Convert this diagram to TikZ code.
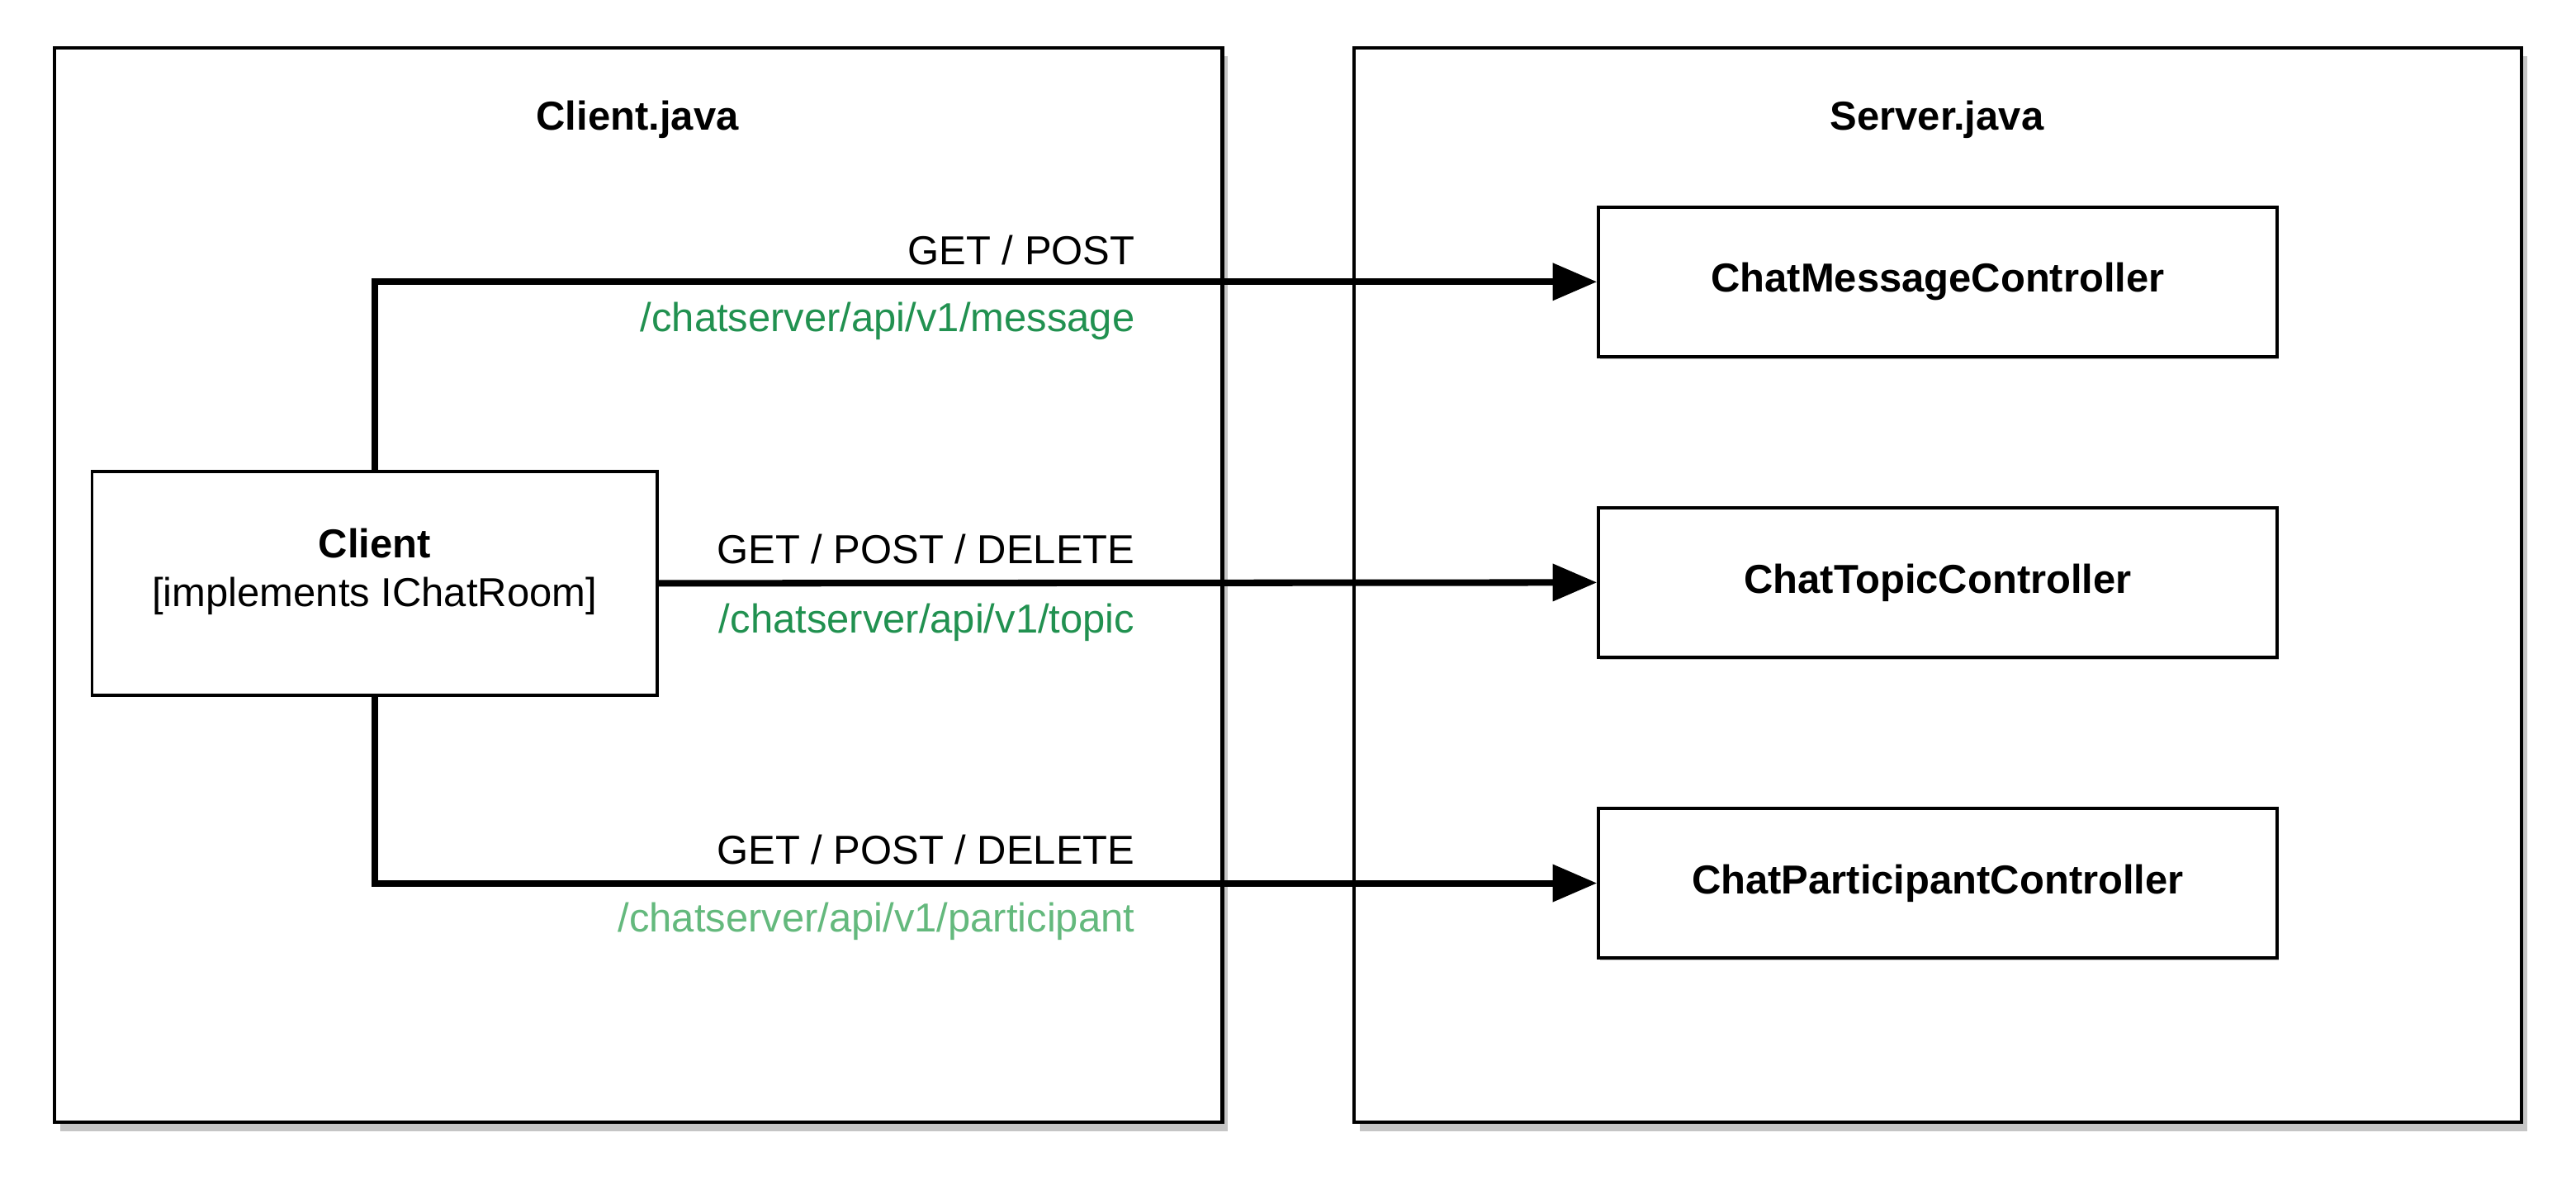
\documentclass[tikz,border=0pt]{standalone}
\usepackage{fontspec}
\setmainfont{Liberation Sans}
\usepackage{tikz}
\usetikzlibrary{arrows.meta,positioning,shadows}
\definecolor{routegreen}{RGB}{33,145,80}
\definecolor{routelight}{RGB}{100,185,125}
\definecolor{boxshadow}{RGB}{150,150,150}

\begin{document}
\begin{tikzpicture}[x=0.02cm,y=-0.02cm,>={Triangle[length=0.54cm,width=0.44cm]},
  line cap=butt,line join=miter,
  font=\fontsize{14}{16.8}\selectfont,
  outerbox/.style={draw=black,line width=1.2pt,fill=white,
   drop shadow={shadow xshift=2pt,shadow yshift=-3pt,fill=boxshadow,opacity=.55}},
  ctrl/.style={draw=black,line width=1.1pt,fill=white,minimum width=8.26cm,
   minimum height=1.82cm,font=\fontsize{14}{16.8}\selectfont\bfseries,
   drop shadow={shadow xshift=.6pt,shadow yshift=-.9pt,fill=boxshadow,opacity=.6}},
  link/.style={->,line width=2.3pt},
  verb/.style={anchor=base east,inner sep=0pt},
  route/.style={anchor=base east,inner sep=0pt,text=routegreen}]
 \useasboundingbox (0,0) rectangle (1568,718);
 \draw[outerbox] (33,29) rectangle (744,683);
 \draw[outerbox] (824,29) rectangle (1535,683);
 \node[font=\fontsize{14}{16.8}\selectfont\bfseries] (cjava) at (388,73) {Client.java};
 \node[font=\fontsize{14}{16.8}\selectfont\bfseries] (sjava) at (1179,73) {Server.java};
 \node[draw,line width=1.1pt,fill=white,minimum width=6.88cm,minimum height=2.72cm,
  align=center,text depth=11pt] (client) at (228,355)
  {\textbf{Client}\\{}[implements IChatRoom]};
 \node[ctrl] (msg) at (1179.5,171.5) {ChatMessageController};
 \node[ctrl] (topic) at (1179.5,354.5) {ChatTopicController};
 \node[ctrl] (part) at (1179.5,537.5) {ChatParticipantController};
 \draw[link] (client.north) |- (msg.west);
 \draw[link] (client.east) -- (topic.west);
 \draw[link] (client.south) |- (part.west);
 \node[verb] (msgverb) at (691,161) {GET / POST};
 \node[route] (msgroute) at (691,202) {/chatserver/api/v1/message};
 \node[verb] (topicverb) at (691,343) {GET / POST / DELETE};
 \node[route] (topicroute) at (691,385) {/chatserver/api/v1/topic};
 \node[verb] (partverb) at (691,526) {GET / POST / DELETE};
 \node[route,text=routelight] (partroute) at (691,567) {/chatserver/api/v1/participant};
\end{tikzpicture}
\end{document}
